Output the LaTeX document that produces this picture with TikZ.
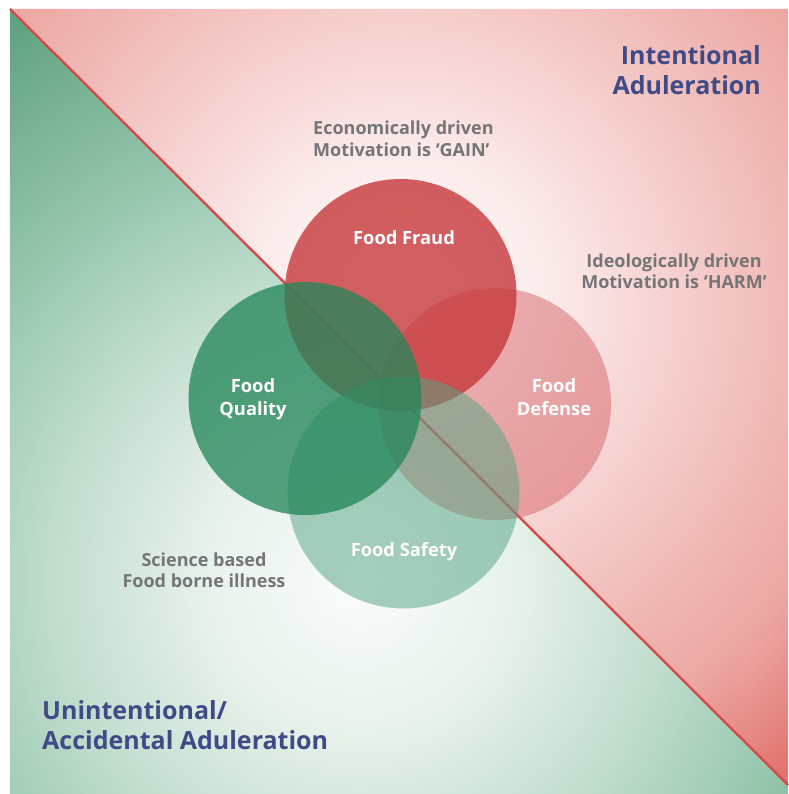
\documentclass[tikz,border=0pt]{standalone}
\usepackage{fontspec}
\setmainfont{Open Sans}
\definecolor{rb0}{RGB}{255,255,255}
\definecolor{rb1}{RGB}{251,234,234}
\definecolor{rb2}{RGB}{241,188,185}
\definecolor{rb3}{RGB}{236,166,162}
\definecolor{rb4}{RGB}{224,110,105}
\definecolor{rb5}{RGB}{218,95,90}
\definecolor{gb0}{RGB}{250,252,251}
\definecolor{gb1}{RGB}{232,242,236}
\definecolor{gb2}{RGB}{195,222,207}
\definecolor{gb3}{RGB}{162,205,182}
\definecolor{gb4}{RGB}{142,193,165}
\definecolor{gb5}{RGB}{93,160,126}
\definecolor{gb6}{RGB}{88,156,122}
\definecolor{fraudc}{RGB}{198,56,59}
\definecolor{defc}{RGB}{210,85,88}
\definecolor{qualc}{RGB}{36,134,90}
\definecolor{safec}{RGB}{86,165,131}
\definecolor{linec}{RGB}{214,72,72}
\definecolor{navy}{RGB}{63,74,134}
\definecolor{grayt}{RGB}{117,117,117}
\pgfdeclareradialshading{redbg}{\pgfpoint{0bp}{0bp}}{color(0bp)=(rb0); color(5.36bp)=(rb1); color(13.2bp)=(rb2); color(17.3bp)=(rb3); color(22.2bp)=(rb4); color(25bp)=(rb5); color(50bp)=(rb5)}
\pgfdeclareradialshading{greenbg}{\pgfpoint{0bp}{0bp}}{color(0bp)=(gb0); color(5.36bp)=(gb1); color(10.7bp)=(gb2); color(14.6bp)=(gb3); color(17.1bp)=(gb4); color(23.9bp)=(gb5); color(25bp)=(gb6); color(50bp)=(gb6)}
\tikzset{
  lab/.style={text=white, font=\fontsize{18.3}{23}\selectfont\bfseries, inner sep=0pt, align=center},
  note/.style={text=grayt, font=\fontsize{18}{21.5}\selectfont\bfseries, inner sep=0pt},
  ttl/.style={text=navy, font=\fontsize{25}{29.5}\selectfont\bfseries, inner sep=0pt},
}
\begin{document}
\begin{tikzpicture}[x=1pt, y=-1pt]
\useasboundingbox (0,0) rectangle (788,794);
\fill[white] (0,0) rectangle (788,794);
\begin{scope}
\clip (10,9) -- (788,9) -- (788,785) -- cycle;
\shade[shading=redbg] (400,300) circle (700);
\end{scope}
\begin{scope}
\clip (10,9) -- (788,785) -- (788,794) -- (10,794) -- cycle;
\shade[shading=greenbg] (360,580) circle (700);
\end{scope}
\coordinate (tl) at (10,9);
\coordinate (br) at (788,785);
\draw[linec, line width=2.3pt] (tl) -- (br);
\fill[defc, fill opacity=0.45] (495,404) circle (116);
\fill[fraudc, fill opacity=0.8] (400.5,295) circle (116);
\fill[safec, fill opacity=0.52] (403.5,492.5) circle (116);
\fill[qualc, fill opacity=0.77] (305,398.5) circle (116.5);
\node[lab] (fraudlab) at (404,238) {Food Fraud};
\node[lab] (qualab) at (253,399) {Food\\Quality};
\node[lab] (deflab) at (554,397) {Food\\Defense};
\node[lab] (safelab) at (404,552) {Food Safety};
\node[note, align=left, anchor=west] (econ) at (313,139) {Economically driven\\Motivation is ‘GAIN’};
\node[note, align=center] (ideo) at (674,271) {Ideologically driven\\Motivation is ‘HARM’};
\node[note, align=center] (sci) at (204,570) {Science based\\Food borne illness};
\node[ttl, align=right, anchor=east] (intent) at (761,70) {Intentional\\Aduleration};
\node[ttl, align=left, anchor=west] (unint) at (42,725) {Unintentional/\\Accidental Aduleration};
\end{tikzpicture}
\end{document}
